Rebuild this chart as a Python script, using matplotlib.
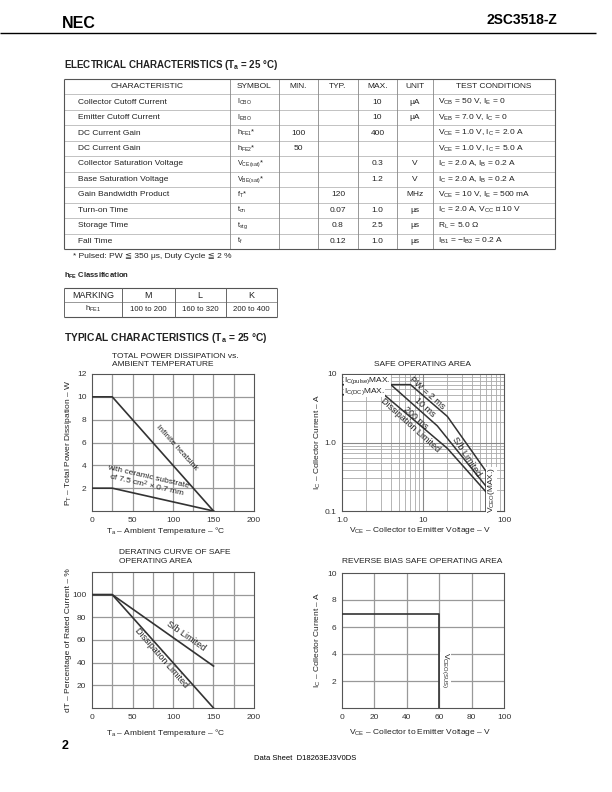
import matplotlib
matplotlib.use("Agg")
import matplotlib.pyplot as plt
import numpy as np

plt.rcParams['font.family'] = ['Liberation Sans', 'DejaVu Sans']
plt.rcParams['mathtext.fontset'] = 'custom'
plt.rcParams['mathtext.rm'] = 'Liberation Sans'
plt.rcParams['mathtext.it'] = 'Liberation Sans:italic'
plt.rcParams['mathtext.bf'] = 'Liberation Sans:bold'
plt.rcParams['mathtext.default'] = 'regular'

# ---------------- data ----------------
table_header = ["CHARACTERISTIC", "SYMBOL", "MIN.", "TYP.", "MAX.", "UNIT", "TEST CONDITIONS"]
characteristics = ["Collector Cutoff Current", "Emitter Cutoff Current", "DC Current Gain",
                   "DC Current Gain", "Collector Saturation Voltage", "Base Saturation Voltage",
                   "Gain Bandwidth Product", "Turn-on Time", "Storage Time", "Fall Time"]
symbols = ["I$_{CBO}$", "I$_{EBO}$", "h$_{FE1}$*", "h$_{FE2}$*", "V$_{CE(sat)}$*", "V$_{BE(sat)}$*",
           "f$_{T}$*", "t$_{on}$", "t$_{stg}$", "t$_{f}$"]
mins = ["", "", "100", "50", "", "", "", "", "", ""]
typs = ["", "", "", "", "", "", "120", "0.07", "0.8", "0.12"]
maxs = ["10", "10", "400", "", "0.3", "1.2", "", "1.0", "2.5", "1.0"]
units = ["μA", "μA", "", "", "V", "V", "MHz", "μs", "μs", "μs"]
conditions = ["V$_{CB}$ = 50 V, I$_{E}$ = 0", "V$_{EB}$ = 7.0 V, I$_{C}$ = 0",
              "V$_{CE}$ = 1.0 V, I$_{C}$ = 2.0 A", "V$_{CE}$ = 1.0 V, I$_{C}$ = 5.0 A",
              "I$_{C}$ = 2.0 A, I$_{B}$ = 0.2 A", "I$_{C}$ = 2.0 A, I$_{B}$ = 0.2 A",
              "V$_{CE}$ = 10 V, I$_{E}$ = 500 mA", "I$_{C}$ = 2.0 A, V$_{CC}$ ≒ 10 V",
              "R$_{L}$ = 5.0 Ω", "I$_{B1}$ = −I$_{B2}$ = 0.2 A"]

hfe_header = ["MARKING", "M", "L", "K"]
hfe_row = ["h$_{FE1}$", "100 to 200", "160 to 320", "200 to 400"]

# Total power dissipation vs ambient temperature
pt_temp = [0, 25, 150]
pt_heatsink = [10, 10, 0]
pt_ceramic = [2, 2, 0]

# Safe operating area
soa_pw2_v = [1, 7, 20, 60, 60]
soa_pw2_i = [7, 7, 2.4, 0.38, 0.1]
soa_10ms_v = [4, 15, 60]
soa_10ms_i = [7, 1.75, 0.23]
soa_dc_v = [1, 3.3, 20, 60]
soa_dc_i = [5, 5, 0.82, 0.19]

# Derating curve
der_temp = [0, 25, 150]
der_sb = [100, 100, 37]
der_diss = [100, 100, 0]

# Reverse bias SOA
rb_v = [0, 60, 60]
rb_i = [7, 7, 0]

# ---------------- figure ----------------
W, H = 612, 792
fig = plt.figure(figsize=(6.12, 7.92), dpi=100)
bg = fig.add_axes([0, 0, 1, 1])
bg.set_xlim(0, W)
bg.set_ylim(H, 0)
bg.axis('off')

TXT = '#222222'
FS = 6.0

def T(x, y, s, **kw):
    kw.setdefault('fontsize', FS)
    kw.setdefault('color', TXT)
    kw.setdefault('va', 'center')
    bg.text(x, y, s, **kw)

def L(x0, y0, x1, y1, c='#777777', lw=0.6):
    bg.plot([x0, x1], [y0, y1], color=c, lw=lw, solid_capstyle='butt')

# header
T(62, 24, "NEC", fontsize=11.5, fontweight='heavy', color='black', ha='left')
T(557, 20, "2SC3518-Z", fontsize=10, fontweight='bold', color='black', ha='right')
L(0, 32.5, 596, 32.5, c='black', lw=1.0)

T(64, 65, "ELECTRICAL CHARACTERISTICS (T$_{a}$ = 25 °C)", fontsize=7, fontweight='bold', ha='left')

# main table
cols = [64, 230, 279, 318, 358, 397, 433, 555]
top = 79.0
rh = 15.45
nrows = len(characteristics) + 1
bottom = top + nrows * rh
for k in range(1, nrows):
    L(cols[0], top + k * rh, cols[-1], top + k * rh, c='#aaaaaa', lw=0.5)
for x in cols[1:-1]:
    L(x, top, x, bottom, c='#888888', lw=0.6)
L(cols[0], top, cols[-1], top, c='#555555', lw=0.8)
L(cols[0], bottom, cols[-1], bottom, c='#555555', lw=0.8)
L(cols[0], top, cols[0], bottom, c='#555555', lw=0.8)
L(cols[-1], top, cols[-1], bottom, c='#555555', lw=0.8)

yc = top + rh / 2
for j, h in enumerate(table_header):
    T((cols[j] + cols[j + 1]) / 2, yc, h, ha='center')
for i in range(len(characteristics)):
    y = top + (i + 1.5) * rh
    T(78, y, characteristics[i], ha='left')
    T(237, y, symbols[i], ha='left', fontsize=5.3)
    T((cols[2] + cols[3]) / 2, y, mins[i], ha='center')
    T((cols[3] + cols[4]) / 2, y, typs[i], ha='center')
    T((cols[4] + cols[5]) / 2, y, maxs[i], ha='center')
    T((cols[5] + cols[6]) / 2, y, units[i], ha='center')
    T(438, y, conditions[i], ha='left')

T(73, 256, "* Pulsed: PW ≦ 350 μs, Duty Cycle ≦ 2 %", ha='left')

# hFE classification
T(64, 276, "h$_{FE}$ Classification", fontsize=5.5, fontweight='bold', ha='left')
hcols = [64, 122, 174.5, 226, 277]
ht, hm, hb = 288, 302, 316.5
L(hcols[0], ht, hcols[-1], ht, c='#555555', lw=0.8)
L(hcols[0], hm, hcols[-1], hm, c='#888888', lw=0.6)
L(hcols[0], hb, hcols[-1], hb, c='#555555', lw=0.8)
for x in hcols:
    L(x, ht, x, hb, c='#666666', lw=0.7)
for j in range(4):
    xc = (hcols[j] + hcols[j + 1]) / 2
    T(xc, (ht + hm) / 2, hfe_header[j], ha='center', fontsize=6.5)
    T(xc, (hm + hb) / 2, hfe_row[j], ha='center', fontsize=5.6)

T(64, 338, "TYPICAL CHARACTERISTICS (T$_{a}$ = 25 °C)", fontsize=7.4, fontweight='bold', ha='left')

# ---------------- charts ----------------
DARK = '#333333'
GRID = '#999999'

def mk_ax(l, r, t, b):
    ax = fig.add_axes([l / W, 1 - b / H, (r - l) / W, (b - t) / H])
    for s in ax.spines.values():
        s.set_color('#555555')
        s.set_linewidth(0.8)
    ax.tick_params(length=0, labelsize=FS, colors='#333333', pad=4)
    return ax

# Chart 1
ax1 = mk_ax(92, 254, 374, 511)
ax1.set_xlim(0, 200)
ax1.set_ylim(0, 12)
ax1.set_xticks([0, 50, 100, 150, 200])
ax1.set_yticks([2, 4, 6, 8, 10, 12])
for x in np.arange(25, 200, 25):
    ax1.axvline(x, color=GRID, lw=0.9, zorder=1)
for y in np.arange(2, 12, 2):
    ax1.axhline(y, color=GRID, lw=0.9, zorder=1)
ax1.plot(pt_temp, pt_heatsink, color=DARK, lw=1.2, zorder=3)
ax1.plot(pt_temp, pt_ceramic, color=DARK, lw=1.2, zorder=3)
ax1.text(104, 5.5, "Infinite heatsink", rotation=-48, ha='center', va='center', fontsize=FS,
         color=TXT, zorder=4, rotation_mode='anchor')
ax1.text(68, 2.55, "with ceramic substrate\nof 7.5 cm$^{2}$ × 0.7 mm", rotation=-13, ha='center',
         va='center', fontsize=FS, color=TXT, zorder=4, linespacing=0.9, rotation_mode='anchor')
T(112, 356.5, "TOTAL POWER DISSIPATION vs.", ha='left')
T(112, 364.5, "AMBIENT TEMPERATURE", ha='left')
T(68, 443, "P$_{T}$ – Total Power Dissipation – W", rotation=90, ha='center')
T(166, 531, "T$_{a}$ – Ambient Temperature – °C", ha='center')

# Chart 2 SOA
ax2 = mk_ax(342, 504, 374, 511)
ax2.set_xscale('log')
ax2.set_yscale('log')
ax2.set_xlim(1, 100)
ax2.set_ylim(0.1, 10)
ax2.set_xticks([1, 10, 100])
ax2.set_xticklabels(["1.0", "10", "100"])
ax2.set_yticks([0.1, 1, 10])
ax2.set_yticklabels(["0.1", "1.0", "10"])
ax2.minorticks_off()
for dec in [1, 10]:
    for m in range(2, 10):
        ax2.axvline(dec * m, color='#aaaaaa', lw=0.6, zorder=1)
for dec in [0.1, 1]:
    for m in range(2, 10):
        ax2.axhline(dec * m, color='#aaaaaa', lw=0.6, zorder=1)
ax2.axvline(10, color='#888888', lw=0.8, zorder=1)
ax2.axhline(1, color='#888888', lw=0.8, zorder=1)
ax2.plot(soa_pw2_v, soa_pw2_i, color=DARK, lw=1.1, zorder=3)
ax2.plot(soa_10ms_v, soa_10ms_i, color=DARK, lw=1.1, zorder=3)
ax2.plot(soa_dc_v, soa_dc_i, color=DARK, lw=1.1, zorder=3)
wb = dict(facecolor='white', edgecolor='none', pad=0.1)
ax2.text(1.06, 8.0, "I$_{C(pulse)}$MAX.", fontsize=FS, color=TXT, ha='left', va='center', bbox=wb, zorder=4)
ax2.text(1.06, 5.6, "I$_{C(DC)}$MAX.", fontsize=FS, color=TXT, ha='left', va='center', bbox=wb, zorder=4)
ax2.text(11.2, 5.3, "PW = 2 ms", rotation=-42, fontsize=FS + 0.5, color=TXT, ha='center', va='center', zorder=4)
ax2.text(10.6, 3.3, "10 ms", rotation=-42, fontsize=FS + 0.5, color=TXT, ha='center', va='center', zorder=4)
ax2.text(8.0, 2.28, "200 ms", rotation=-42, fontsize=FS + 0.5, color=TXT, ha='center', va='center', zorder=4)
ax2.text(7.0, 1.8, "Dissipation Limited", rotation=-42, fontsize=FS + 0.5, color=TXT, ha='center', va='center', zorder=4)
ax2.text(34.6, 0.62, "S/b Limited", rotation=-57, fontsize=FS + 0.5, color=TXT, ha='center', va='center', zorder=4)
ax2.text(70.5, 0.2, "V$_{CEO}$(MAX.)", rotation=90, fontsize=FS, color=TXT, ha='center', va='center', bbox=wb, zorder=4)
T(422, 364, "SAFE OPERATING AREA", ha='center')
T(318, 442, "I$_{C}$ – Collector Current – A", rotation=90, ha='center')
T(420, 531, "V$_{CE}$ – Collector to Emitter Voltage – V", ha='center')

# Chart 3 derating
ax3 = mk_ax(92, 254, 572, 708)
ax3.set_xlim(0, 200)
ax3.set_ylim(0, 120)
ax3.set_xticks([0, 50, 100, 150, 200])
ax3.set_yticks([20, 40, 60, 80, 100])
for x in np.arange(25, 200, 25):
    ax3.axvline(x, color=GRID, lw=0.9, zorder=1)
for y in np.arange(20, 120, 20):
    ax3.axhline(y, color=GRID, lw=0.9, zorder=1)
ax3.plot(der_temp, der_sb, color=DARK, lw=1.2, zorder=3)
ax3.plot(der_temp, der_diss, color=DARK, lw=1.2, zorder=3)
ax3.text(116, 64, "S/b Limited", rotation=-35, ha='center', va='center', fontsize=FS + 0.5, color=TXT, zorder=4)
ax3.text(86, 44, "Dissipation Limited", rotation=-49, ha='center', va='center', fontsize=FS + 0.5, color=TXT, zorder=4)
T(119, 553, "DERATING CURVE OF SAFE", ha='left')
T(119, 561.5, "OPERATING AREA", ha='left')
T(68, 640, "dT – Percentage of Rated Current – %", rotation=90, ha='center')
T(166, 733, "T$_{a}$ – Ambient Temperature – °C", ha='center')

# Chart 4 RBSOA
ax4 = mk_ax(342, 504, 573, 708)
ax4.set_xlim(0, 100)
ax4.set_ylim(0, 10)
ax4.set_xticks([0, 20, 40, 60, 80, 100])
ax4.set_yticks([2, 4, 6, 8, 10])
for x in np.arange(20, 100, 20):
    ax4.axvline(x, color=GRID, lw=0.9, zorder=1)
for y in np.arange(2, 10, 2):
    ax4.axhline(y, color=GRID, lw=0.9, zorder=1)
ax4.plot(rb_v, rb_i, color=DARK, lw=1.2, zorder=3)
ax4.text(64, 2.8, "V$_{CEO(SUS)}$", rotation=270, ha='center', va='center', fontsize=FS,
         color=TXT, bbox=wb, zorder=4)
T(422, 561.5, "REVERSE BIAS SAFE OPERATING AREA", ha='center')
T(318, 640, "I$_{C}$ – Collector Current – A", rotation=90, ha='center')
T(420, 733, "V$_{CE}$ – Collector to Emitter Voltage – V", ha='center')

# footer
T(62, 746, "2", fontsize=9, fontweight='bold', color='black', ha='left')
T(305, 758, "Data Sheet  D18263EJ3V0DS", fontsize=5.5, color='black', ha='center')

fig.savefig("out.png", dpi=100)
